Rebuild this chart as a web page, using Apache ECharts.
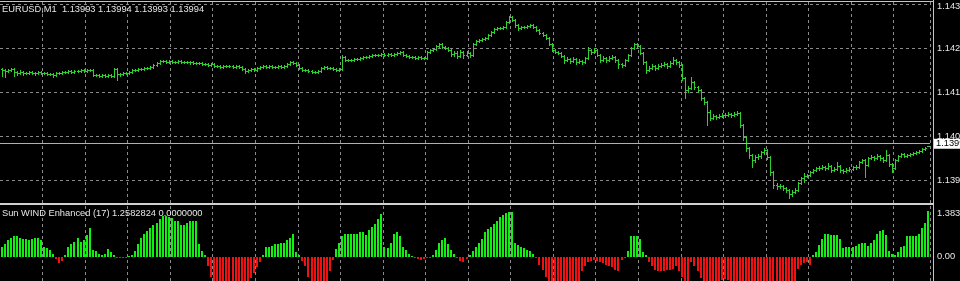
<!DOCTYPE html>
<html><head><meta charset="utf-8">
<script src="https://cdn.jsdelivr.net/npm/echarts@6/dist/echarts.min.js"></script>
<style>html,body{margin:0;padding:0;background:#000;}#chart{width:960px;height:281px;}</style>
</head><body><div id="chart"></div>
<script>
const symbol = 'EURUSD';
const timeframe = 'M1';
const indicatorName = 'Sun WIND Enhanced';
const indicatorPeriod = 17;
const indicatorSecondValue = 0;

const opens = [
1.14195,1.14193,1.14190,1.14193,1.14195,1.14187,1.14185,1.14187,1.14185,1.14185,
1.14187,1.14185,1.14185,1.14187,1.14185,1.14185,1.14182,1.14182,1.14180,1.14185,
1.14185,1.14187,1.14187,1.14190,1.14187,1.14190,1.14190,1.14193,1.14190,1.14193,
1.14193,1.14180,1.14180,1.14177,1.14180,1.14177,1.14180,1.14177,1.14195,1.14182,
1.14182,1.14185,1.14185,1.14187,1.14193,1.14193,1.14195,1.14195,1.14198,1.14198,
1.14200,1.14206,1.14211,1.14216,1.14216,1.14213,1.14216,1.14213,1.14213,1.14216,
1.14213,1.14213,1.14213,1.14213,1.14211,1.14211,1.14211,1.14208,1.14208,1.14206,
1.14208,1.14203,1.14203,1.14200,1.14203,1.14203,1.14203,1.14200,1.14203,1.14200,
1.14195,1.14190,1.14193,1.14195,1.14193,1.14198,1.14200,1.14203,1.14200,1.14203,
1.14200,1.14200,1.14203,1.14200,1.14203,1.14208,1.14213,1.14211,1.14206,1.14198,
1.14193,1.14193,1.14190,1.14187,1.14187,1.14190,1.14198,1.14200,1.14198,1.14198,
1.14195,1.14193,1.14195,1.14227,1.14219,1.14219,1.14219,1.14221,1.14221,1.14224,
1.14227,1.14227,1.14229,1.14232,1.14232,1.14232,1.14234,1.14232,1.14234,1.14232,
1.14234,1.14237,1.14240,1.14232,1.14229,1.14227,1.14227,1.14224,1.14227,1.14224,
1.14224,1.14240,1.14245,1.14247,1.14255,1.14261,1.14253,1.14250,1.14245,1.14234,
1.14237,1.14229,1.14240,1.14232,1.14237,1.14232,1.14261,1.14268,1.14271,1.14274,
1.14276,1.14284,1.14292,1.14300,1.14302,1.14302,1.14305,1.14318,1.14331,1.14323,
1.14310,1.14302,1.14305,1.14305,1.14308,1.14310,1.14305,1.14297,1.14289,1.14284,
1.14276,1.14261,1.14245,1.14240,1.14237,1.14229,1.14219,1.14221,1.14216,1.14221,
1.14213,1.14216,1.14213,1.14224,1.14245,1.14240,1.14245,1.14232,1.14219,1.14224,
1.14219,1.14224,1.14227,1.14219,1.14208,1.14206,1.14219,1.14232,1.14250,1.14261,
1.14255,1.14237,1.14213,1.14193,1.14198,1.14203,1.14198,1.14203,1.14206,1.14208,
1.14203,1.14211,1.14219,1.14213,1.14206,1.14172,1.14140,1.14145,1.14161,1.14148,
1.14140,1.14119,1.14109,1.14083,1.14067,1.14072,1.14070,1.14072,1.14075,1.14075,
1.14078,1.14075,1.14078,1.14080,1.14049,1.14017,1.13989,1.13970,1.13957,1.13965,
1.13968,1.13978,1.13984,1.13965,1.13926,1.13892,1.13889,1.13889,1.13884,1.13879,
1.13869,1.13874,1.13879,1.13897,1.13910,1.13916,1.13918,1.13926,1.13931,1.13936,
1.13936,1.13939,1.13936,1.13942,1.13931,1.13934,1.13942,1.13931,1.13928,1.13931,
1.13934,1.13939,1.13939,1.13952,1.13957,1.13944,1.13963,1.13965,1.13963,1.13968,
1.13963,1.13957,1.13970,1.13947,1.13936,1.13957,1.13968,1.13973,1.13968,1.13970,
1.13973,1.13976,1.13978,1.13981,1.13986,1.13993
];
const highs = [
1.14198,1.14196,1.14196,1.14198,1.14198,1.14190,1.14193,1.14190,1.14187,1.14190,
1.14190,1.14187,1.14190,1.14190,1.14187,1.14187,1.14185,1.14185,1.14187,1.14187,
1.14190,1.14190,1.14193,1.14193,1.14193,1.14193,1.14195,1.14195,1.14195,1.14195,
1.14195,1.14182,1.14182,1.14182,1.14182,1.14182,1.14182,1.14198,1.14198,1.14185,
1.14187,1.14187,1.14190,1.14195,1.14195,1.14198,1.14198,1.14200,1.14200,1.14203,
1.14208,1.14213,1.14219,1.14219,1.14219,1.14219,1.14219,1.14216,1.14219,1.14219,
1.14216,1.14216,1.14216,1.14216,1.14213,1.14213,1.14213,1.14211,1.14211,1.14211,
1.14211,1.14206,1.14206,1.14206,1.14206,1.14206,1.14206,1.14206,1.14206,1.14203,
1.14198,1.14195,1.14198,1.14198,1.14200,1.14203,1.14206,1.14206,1.14206,1.14206,
1.14203,1.14206,1.14206,1.14206,1.14211,1.14216,1.14216,1.14213,1.14208,1.14200,
1.14195,1.14195,1.14193,1.14190,1.14193,1.14200,1.14203,1.14203,1.14200,1.14200,
1.14198,1.14198,1.14232,1.14229,1.14221,1.14221,1.14224,1.14224,1.14227,1.14229,
1.14229,1.14232,1.14234,1.14234,1.14234,1.14237,1.14237,1.14237,1.14237,1.14237,
1.14240,1.14242,1.14242,1.14234,1.14232,1.14229,1.14229,1.14229,1.14229,1.14227,
1.14242,1.14247,1.14250,1.14258,1.14263,1.14263,1.14255,1.14253,1.14247,1.14242,
1.14242,1.14245,1.14242,1.14242,1.14240,1.14263,1.14271,1.14274,1.14276,1.14279,
1.14287,1.14295,1.14302,1.14305,1.14305,1.14308,1.14321,1.14334,1.14334,1.14326,
1.14313,1.14308,1.14308,1.14310,1.14313,1.14313,1.14308,1.14300,1.14292,1.14287,
1.14279,1.14263,1.14247,1.14242,1.14240,1.14232,1.14227,1.14224,1.14227,1.14224,
1.14221,1.14219,1.14227,1.14253,1.14247,1.14250,1.14247,1.14234,1.14229,1.14227,
1.14229,1.14232,1.14229,1.14221,1.14211,1.14221,1.14234,1.14253,1.14263,1.14263,
1.14258,1.14240,1.14216,1.14203,1.14208,1.14206,1.14208,1.14211,1.14213,1.14211,
1.14216,1.14227,1.14221,1.14216,1.14208,1.14174,1.14151,1.14174,1.14164,1.14151,
1.14143,1.14122,1.14112,1.14088,1.14078,1.14075,1.14078,1.14080,1.14080,1.14083,
1.14080,1.14083,1.14085,1.14083,1.14051,1.14020,1.13991,1.13973,1.13970,1.13973,
1.13981,1.13989,1.13986,1.13968,1.13928,1.13897,1.13894,1.13892,1.13887,1.13881,
1.13879,1.13884,1.13900,1.13913,1.13923,1.13921,1.13928,1.13934,1.13939,1.13942,
1.13944,1.13942,1.13949,1.13944,1.13939,1.13952,1.13944,1.13934,1.13936,1.13939,
1.13942,1.13944,1.13955,1.13960,1.13960,1.13965,1.13970,1.13968,1.13973,1.13970,
1.13965,1.13984,1.13973,1.13949,1.13960,1.13970,1.13976,1.13976,1.13973,1.13976,
1.13978,1.13981,1.13984,1.13989,1.13991,1.13994
];
const lows = [
1.14177,1.14174,1.14187,1.14190,1.14177,1.14180,1.14182,1.14180,1.14182,1.14182,
1.14182,1.14180,1.14182,1.14182,1.14182,1.14180,1.14180,1.14174,1.14177,1.14182,
1.14182,1.14185,1.14185,1.14185,1.14185,1.14187,1.14187,1.14187,1.14187,1.14190,
1.14177,1.14177,1.14174,1.14174,1.14174,1.14174,1.14174,1.14174,1.14166,1.14177,
1.14180,1.14182,1.14182,1.14185,1.14190,1.14190,1.14193,1.14193,1.14195,1.14195,
1.14198,1.14203,1.14208,1.14213,1.14211,1.14211,1.14211,1.14211,1.14211,1.14211,
1.14211,1.14211,1.14208,1.14208,1.14208,1.14208,1.14206,1.14206,1.14203,1.14203,
1.14200,1.14200,1.14198,1.14198,1.14200,1.14200,1.14198,1.14198,1.14198,1.14193,
1.14185,1.14187,1.14190,1.14190,1.14190,1.14195,1.14198,1.14198,1.14198,1.14198,
1.14198,1.14198,1.14198,1.14198,1.14200,1.14206,1.14208,1.14203,1.14195,1.14190,
1.14190,1.14187,1.14185,1.14185,1.14185,1.14187,1.14195,1.14195,1.14195,1.14193,
1.14190,1.14190,1.14193,1.14216,1.14216,1.14216,1.14216,1.14219,1.14219,1.14221,
1.14224,1.14224,1.14227,1.14229,1.14229,1.14229,1.14229,1.14229,1.14229,1.14229,
1.14232,1.14234,1.14229,1.14227,1.14224,1.14224,1.14221,1.14221,1.14221,1.14221,
1.14221,1.14237,1.14242,1.14245,1.14253,1.14250,1.14247,1.14242,1.14229,1.14229,
1.14224,1.14227,1.14224,1.14229,1.14227,1.14229,1.14258,1.14266,1.14268,1.14271,
1.14274,1.14281,1.14289,1.14297,1.14300,1.14300,1.14302,1.14315,1.14321,1.14305,
1.14297,1.14300,1.14302,1.14302,1.14305,1.14302,1.14295,1.14287,1.14281,1.14274,
1.14258,1.14242,1.14237,1.14234,1.14227,1.14211,1.14216,1.14211,1.14213,1.14208,
1.14211,1.14208,1.14211,1.14221,1.14234,1.14237,1.14229,1.14213,1.14216,1.14213,
1.14216,1.14221,1.14213,1.14198,1.14200,1.14203,1.14216,1.14229,1.14247,1.14250,
1.14234,1.14208,1.14185,1.14190,1.14195,1.14193,1.14195,1.14200,1.14203,1.14198,
1.14200,1.14208,1.14208,1.14200,1.14166,1.14119,1.14135,1.14143,1.14143,1.14135,
1.14114,1.14104,1.14049,1.14062,1.14064,1.14064,1.14067,1.14070,1.14070,1.14072,
1.14070,1.14072,1.14075,1.14043,1.14010,1.13981,1.13963,1.13939,1.13952,1.13960,
1.13963,1.13973,1.13960,1.13918,1.13884,1.13881,1.13884,1.13879,1.13874,1.13858,
1.13863,1.13871,1.13876,1.13894,1.13900,1.13913,1.13916,1.13923,1.13928,1.13931,
1.13934,1.13931,1.13934,1.13926,1.13928,1.13931,1.13926,1.13923,1.13926,1.13928,
1.13931,1.13934,1.13936,1.13949,1.13913,1.13942,1.13960,1.13957,1.13960,1.13957,
1.13952,1.13955,1.13942,1.13926,1.13934,1.13955,1.13965,1.13965,1.13965,1.13968,
1.13970,1.13973,1.13976,1.13978,1.13984,1.13993
];
const closes = [
1.14193,1.14190,1.14193,1.14195,1.14187,1.14185,1.14187,1.14185,1.14185,1.14187,
1.14185,1.14185,1.14187,1.14185,1.14185,1.14182,1.14182,1.14180,1.14185,1.14185,
1.14187,1.14187,1.14190,1.14187,1.14190,1.14190,1.14193,1.14190,1.14193,1.14193,
1.14180,1.14180,1.14177,1.14180,1.14177,1.14180,1.14177,1.14195,1.14182,1.14182,
1.14185,1.14185,1.14187,1.14193,1.14193,1.14195,1.14195,1.14198,1.14198,1.14200,
1.14206,1.14211,1.14216,1.14216,1.14213,1.14216,1.14213,1.14213,1.14216,1.14213,
1.14213,1.14213,1.14213,1.14211,1.14211,1.14211,1.14208,1.14208,1.14206,1.14208,
1.14203,1.14203,1.14200,1.14203,1.14203,1.14203,1.14200,1.14203,1.14200,1.14195,
1.14190,1.14193,1.14195,1.14193,1.14198,1.14200,1.14203,1.14200,1.14203,1.14200,
1.14200,1.14203,1.14200,1.14203,1.14208,1.14213,1.14211,1.14206,1.14198,1.14193,
1.14193,1.14190,1.14187,1.14187,1.14190,1.14198,1.14200,1.14198,1.14198,1.14195,
1.14193,1.14195,1.14227,1.14219,1.14219,1.14219,1.14221,1.14221,1.14224,1.14227,
1.14227,1.14229,1.14232,1.14232,1.14232,1.14234,1.14232,1.14234,1.14232,1.14234,
1.14237,1.14240,1.14232,1.14229,1.14227,1.14227,1.14224,1.14227,1.14224,1.14224,
1.14240,1.14245,1.14247,1.14255,1.14261,1.14253,1.14250,1.14245,1.14234,1.14237,
1.14229,1.14240,1.14232,1.14237,1.14232,1.14261,1.14268,1.14271,1.14274,1.14276,
1.14284,1.14292,1.14300,1.14302,1.14302,1.14305,1.14318,1.14331,1.14323,1.14310,
1.14302,1.14305,1.14305,1.14308,1.14310,1.14305,1.14297,1.14289,1.14284,1.14276,
1.14261,1.14245,1.14240,1.14237,1.14229,1.14219,1.14221,1.14216,1.14221,1.14213,
1.14216,1.14213,1.14224,1.14245,1.14240,1.14245,1.14232,1.14219,1.14224,1.14219,
1.14224,1.14227,1.14219,1.14208,1.14206,1.14219,1.14232,1.14250,1.14261,1.14255,
1.14237,1.14213,1.14193,1.14198,1.14203,1.14198,1.14203,1.14206,1.14208,1.14203,
1.14211,1.14219,1.14213,1.14206,1.14172,1.14140,1.14145,1.14161,1.14148,1.14140,
1.14119,1.14109,1.14083,1.14067,1.14072,1.14070,1.14072,1.14075,1.14075,1.14078,
1.14075,1.14078,1.14080,1.14049,1.14017,1.13989,1.13970,1.13957,1.13965,1.13968,
1.13978,1.13984,1.13965,1.13926,1.13892,1.13889,1.13889,1.13884,1.13879,1.13869,
1.13874,1.13879,1.13897,1.13910,1.13916,1.13918,1.13926,1.13931,1.13936,1.13936,
1.13939,1.13936,1.13942,1.13931,1.13934,1.13942,1.13931,1.13928,1.13931,1.13934,
1.13939,1.13939,1.13952,1.13957,1.13944,1.13963,1.13965,1.13963,1.13968,1.13963,
1.13957,1.13970,1.13947,1.13936,1.13957,1.13968,1.13973,1.13968,1.13970,1.13973,
1.13976,1.13978,1.13981,1.13986,1.13989,1.13994
];
const windValues = [
0.25,0.35,0.46,0.52,0.57,0.57,0.52,0.49,0.49,0.46,
0.49,0.52,0.52,0.44,0.25,0.22,0.19,0.08,-0.08,-0.18,
-0.11,0.05,0.25,0.33,0.41,0.51,0.41,0.46,0.60,0.78,
0.19,0.14,0.08,0.05,0.08,0.20,0.11,0.05,-0.03,-0.03,
-0.04,-0.03,0.01,0.05,0.16,0.34,0.52,0.61,0.71,0.78,
0.87,0.93,1.04,1.12,1.12,1.09,1.05,0.96,0.96,0.87,
0.87,0.93,0.98,0.98,0.98,0.34,0.16,0.04,-0.27,-0.55,
-0.82,-0.90,-1.00,-1.05,-1.10,-1.10,-1.05,-1.00,-0.95,-0.90,
-0.85,-0.80,-0.60,-0.46,-0.30,-0.14,0.05,0.25,0.27,0.30,
0.33,0.34,0.36,0.37,0.44,0.52,0.61,0.11,0.03,-0.11,
-0.27,-0.55,-0.75,-0.85,-0.90,-0.90,-0.85,-0.70,-0.40,-0.10,
0.20,0.38,0.55,0.61,0.63,0.63,0.61,0.61,0.66,0.66,
0.59,0.72,0.82,0.90,1.04,1.17,0.27,0.23,0.36,0.63,
0.68,0.55,0.27,0.18,0.08,0.01,-0.05,-0.08,-0.10,-0.08,
-0.05,-0.03,0.05,0.19,0.36,0.46,0.52,0.33,0.19,0.08,
-0.05,-0.11,-0.14,-0.08,0.05,0.16,0.27,0.38,0.49,0.68,
0.74,0.82,0.89,0.98,1.07,1.13,1.20,1.23,1.23,0.38,
0.31,0.27,0.22,0.18,0.14,0.07,-0.05,-0.22,-0.38,-0.57,
-0.75,-0.85,-0.95,-1.00,-1.05,-1.05,-1.00,-0.95,-0.90,-0.80,
-0.70,-0.41,-0.27,-0.16,-0.11,-0.10,-0.11,-0.16,-0.19,-0.22,
-0.25,-0.30,-0.37,-0.41,-0.10,-0.03,0.14,0.57,0.55,0.55,
0.49,0.11,0.04,-0.14,-0.27,-0.37,-0.41,-0.41,-0.41,-0.38,
-0.36,-0.33,-0.27,-0.41,-0.55,-0.75,-0.72,-0.16,-0.27,-0.41,
-0.60,-0.72,-0.80,-0.85,-0.90,-0.80,-0.70,-0.65,-0.63,-0.65,
-0.70,-0.80,-0.90,-1.00,-1.10,-1.15,-1.20,-1.20,-1.15,-1.10,
-1.05,-1.00,-0.95,-0.90,-0.85,-0.80,-0.75,-0.70,-0.70,-0.70,
-0.70,-0.70,-0.33,-0.23,-0.19,-0.16,-0.23,0.03,0.11,0.31,
0.49,0.63,0.61,0.60,0.59,0.60,0.49,0.22,0.27,0.26,
0.26,0.30,0.33,0.36,0.36,0.30,0.36,0.46,0.63,0.71,
0.72,0.60,0.16,0.08,0.05,0.12,0.25,0.30,0.55,0.57,
0.57,0.57,0.63,0.78,0.93,1.2582824
];
// right-hand price scale: lowest labelled level, step and highest labelled level
const priceScaleMin = 1.13905;
const priceScaleStep = 0.00115;
const priceScaleMax = 1.14365;
// indicator window scale: zero level and window maximum
const windScaleMin = 0;
const windScaleMax = 1.3838;

const FONT = 'Liberation Sans';
const FS = 9.3;
const GRID_COLOR = '#8a8a8a';
const BAR_COLOR = '#2fd02f';
const UP_COLOR = '#12f012';
const DOWN_COLOR = '#f01212';
const TEXT_COLOR = '#e6e6e6';

const last = closes.length - 1;
const categories = closes.map((_, k) => String(k));
const bid = closes[last];
const headerText = symbol + ',' + timeframe + '  ' +
  [opens[last], highs[last], lows[last], closes[last]].map(v => v.toFixed(5)).join(' ');
const windTitle = indicatorName + ' (' + indicatorPeriod + ') ' +
  windValues[last].toFixed(7) + ' ' + indicatorSecondValue.toFixed(7);

const ohlcData = closes.map((c, k) => [k, opens[k], c, lows[k], highs[k]]);
const windData = windValues.map((v, k) => [k, v]);

const chart = echarts.init(document.getElementById('chart'), null, { renderer: 'canvas' });

const catAxis = (gi, withGrid) => ({
  type: 'category', gridIndex: gi, data: categories, boundaryGap: true,
  axisLine: { show: false }, axisTick: { show: false }, axisLabel: { show: false },
  splitLine: withGrid ? {
    show: true,
    interval: (idx) => idx > 0 && idx % 14 === 0,
    lineStyle: { color: GRID_COLOR, width: 1, type: [3, 3] }
  } : { show: false }
});
const hiddenY = (gi) => ({
  type: 'value', gridIndex: gi, min: 0, max: 1, show: false,
  splitLine: { show: false }
});
const labelStyle = { color: TEXT_COLOR, fontFamily: FONT, fontSize: FS };
const gridBase = { left: 0, width: 930, containLabel: false, outerBoundsMode: 'none' };

chart.setOption({
  animation: false,
  backgroundColor: '#000000',
  title: [
    { text: headerText, left: 2, top: 5, padding: 0,
      textStyle: { color: TEXT_COLOR, fontFamily: FONT, fontSize: FS, fontWeight: 'normal' } },
    { text: windTitle, left: 2, top: 209, padding: 0,
      textStyle: { color: TEXT_COLOR, fontFamily: FONT, fontSize: FS, fontWeight: 'normal' } }
  ],
  grid: [
    Object.assign({ top: 2, height: 201 }, gridBase),
    Object.assign({ top: 206, height: 75 }, gridBase),
    Object.assign({ top: 4, height: 176 }, gridBase),
    Object.assign({ top: 206, height: 50.5 }, gridBase)
  ],
  xAxis: [catAxis(0, true), catAxis(1, true), catAxis(2, false), catAxis(3, false)],
  yAxis: [
    hiddenY(0),
    hiddenY(1),
    {
      type: 'value', gridIndex: 2, position: 'right',
      min: priceScaleMin, max: priceScaleMax, interval: priceScaleStep,
      axisLine: { show: false }, axisTick: { show: false },
      splitLine: { show: true, lineStyle: { color: GRID_COLOR, width: 1, type: [3, 3] } },
      axisLabel: {
        show: true, inside: false, margin: 7, hideOverlap: false,
        color: TEXT_COLOR, fontFamily: FONT, fontSize: FS,
        formatter: (v) => (Math.abs(v - priceScaleMax) < 1e-7 ? '{t|' + v.toFixed(5) + '}' : v.toFixed(5)),
        rich: { t: Object.assign({ padding: [4, 0, 0, 0] }, labelStyle) }
      }
    },
    {
      type: 'value', gridIndex: 3, position: 'right',
      min: windScaleMin, max: windScaleMax, interval: windScaleMax - windScaleMin,
      axisLine: { show: false }, axisTick: { show: false },
      splitLine: { show: false },
      axisLabel: {
        show: true, inside: false, margin: 7, hideOverlap: false,
        color: TEXT_COLOR, fontFamily: FONT, fontSize: FS,
        formatter: (v) => (v === 0 ? v.toFixed(2) : '{t|' + v.toFixed(4) + '}'),
        rich: { t: Object.assign({ padding: [14, 0, 0, 0] }, labelStyle) }
      }
    }
  ],
  series: [
    {
      name: 'bid', type: 'line', xAxisIndex: 2, yAxisIndex: 2, data: [], z: 2, silent: true,
      markLine: {
        silent: true, symbol: ['none', 'none'], animation: false,
        data: [{
          yAxis: bid,
          lineStyle: { color: '#b0b0b0', width: 1, type: 'solid' },
          label: {
            show: true, position: 'end', distance: 3, formatter: bid.toFixed(5),
            color: '#000000', backgroundColor: '#ffffff', padding: [1, 4, 0, 3],
            fontFamily: FONT, fontSize: FS
          }
        }]
      }
    },
    {
      name: 'price', type: 'custom', xAxisIndex: 2, yAxisIndex: 2, z: 3, silent: true,
      data: ohlcData,
      encode: { x: 0, y: [1, 2, 3, 4] },
      renderItem: function (params, api) {
        const i = api.value(0);
        const o = api.coord([i, api.value(1)]);
        const c = api.coord([i, api.value(2)]);
        const l = api.coord([i, api.value(3)]);
        const h = api.coord([i, api.value(4)]);
        const x = Math.round(o[0]) + 0.5;
        const yT = Math.round(h[1]);
        const yB = Math.max(Math.round(l[1]) + 1, yT + 1);
        const yo = Math.round(o[1]) + 0.5;
        const yc = Math.round(c[1]) + 0.5;
        const st = { stroke: BAR_COLOR, lineWidth: 1 };
        return {
          type: 'group',
          children: [
            { type: 'line', shape: { x1: x, y1: yT, x2: x, y2: yB }, style: st },
            { type: 'line', shape: { x1: x - 1.5, y1: yo, x2: x - 0.5, y2: yo }, style: st },
            { type: 'line', shape: { x1: x + 0.5, y1: yc, x2: x + 1.5, y2: yc }, style: st }
          ]
        };
      }
    },
    {
      name: 'wind', type: 'custom', xAxisIndex: 3, yAxisIndex: 3, z: 3, silent: true,
      data: windData,
      encode: { x: 0, y: 1 },
      renderItem: function (params, api) {
        const i = api.value(0);
        const v = api.value(1);
        const p0 = api.coord([i, 0]);
        const p1 = api.coord([i, v]);
        const X = Math.round(p0[0]);
        const y0 = Math.round(p0[1]);
        const y1 = Math.round(p1[1]);
        return {
          type: 'rect',
          shape: { x: X - 1, y: Math.min(y0, y1), width: 2, height: Math.max(1, Math.abs(y1 - y0)) },
          style: { fill: v >= 0 ? UP_COLOR : DOWN_COLOR }
        };
      }
    }
  ],
  graphic: [
    { type: 'line', z: 100, silent: true, shape: { x1: 0, y1: 1.5, x2: 933, y2: 1.5 }, style: { stroke: '#c4c4c4', lineWidth: 1 } },
    { type: 'line', z: 100, silent: true, shape: { x1: 933.5, y1: 0, x2: 933.5, y2: 281 }, style: { stroke: '#c4c4c4', lineWidth: 1 } },
    { type: 'rect', z: 100, silent: true, shape: { x: 0, y: 203, width: 934, height: 2 }, style: { fill: '#d0d0d0' } }
  ]
});
</script></body></html>
